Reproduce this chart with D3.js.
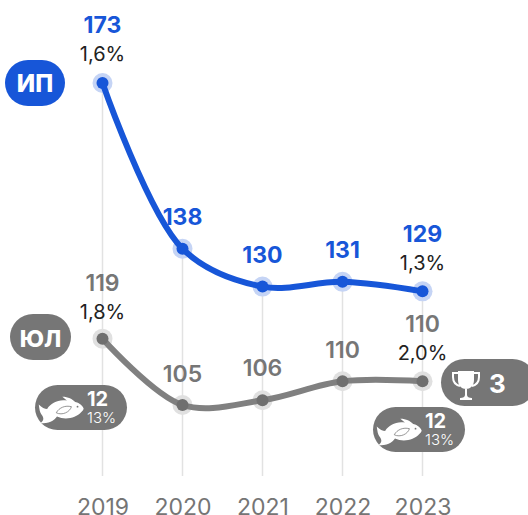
<!DOCTYPE html>
<html>
<head>
<meta charset="utf-8">
<script src="https://cdn.jsdelivr.net/npm/d3@7"></script>
<style>
html, body { margin: 0; padding: 0; background: #fff; overflow: hidden; }
svg { display: block; font-family: Inter, "Open Sans", sans-serif; }
.domain { display: none; }
</style>
</head>
<body>
<svg id="chart"></svg>
<script>
// data
var years = ["2019", "2020", "2021", "2022", "2023"];
var ipValues = [173, 138, 130, 131, 129];
var ipShare = ["1,6%", null, null, null, "1,3%"];
var ulValues = [119, 105, 106, 110, 110];
var ulShare = ["1,8%", null, null, null, "2,0%"];
var fishBadges = [
  { year: "2019", count: "12", share: "13%" },
  { year: "2023", count: "12", share: "13%" }
];
var trophyCount = "3";

var BLUE = "#1756d8";
var GRAY = "#767676";

var size = { width: 528, height: 515 };

var svg = d3.select("#chart")
  .attr("width", size.width)
  .attr("height", size.height);

var x = d3.scalePoint()
  .domain(years)
  .range([102.5, 422.5]);

var y = d3.scaleLinear()
  .domain([90, 173])
  .range([476, 83]);

// vertical guide lines, from the upper series down
svg.append("g").selectAll("line")
  .data(years)
  .enter()
  .append("line")
  .attr("x1", function(d){ return x(d); })
  .attr("x2", function(d){ return x(d); })
  .attr("y1", function(d, i){ return y(ipValues[i]); })
  .attr("y2", y(90))
  .attr("stroke", "#e2e2e2")
  .attr("stroke-width", 1.5);

// axis labels
var xAxis = d3.axisBottom().scale(x).tickSize(0).tickPadding(0);
var axisG = svg.append("g")
  .attr("transform", "translate(0,499)")
  .call(xAxis);
axisG.selectAll("text")
  .attr("font-family", "Inter, sans-serif")
  .attr("font-size", 23)
  .attr("font-weight", 400)
  .attr("fill", "#757575");

var line = d3.line()
  .x(function(d, i){ return x(years[i]); })
  .y(function(d){ return y(d); })
  .curve(d3.curveCatmullRom.alpha(0.5));

function drawSeries(values, color, lineColor, haloColor){
  var g = svg.append("g");
  g.selectAll("circle.halo")
    .data(values)
    .enter()
    .append("circle")
    .attr("class", "halo")
    .attr("cx", function(d, i){ return x(years[i]); })
    .attr("cy", function(d){ return y(d); })
    .attr("r", 10)
    .attr("fill", haloColor);
  svg.append("path")
    .datum(values)
    .attr("d", line)
    .attr("fill", "none")
    .attr("stroke", lineColor)
    .attr("stroke-width", 6)
    .attr("stroke-linecap", "round");
  svg.append("g").selectAll("circle.dot")
    .data(values)
    .enter()
    .append("circle")
    .attr("class", "dot")
    .attr("cx", function(d, i){ return x(years[i]); })
    .attr("cy", function(d){ return y(d); })
    .attr("r", 6)
    .attr("fill", color);
}

drawSeries(ulValues, "#6f6f6f", "#808080", "#e0e0e0");
drawSeries(ipValues, BLUE, BLUE, "#c5d4f5");

function label(px, py, str, opt){
  return svg.append("text")
    .attr("x", px)
    .attr("y", py)
    .attr("text-anchor", opt.anchor || "middle")
    .attr("font-size", opt.size)
    .attr("font-weight", opt.weight)
    .attr("fill", opt.color)
    .text(str);
}

// value labels
var ipOffset = [-50, -24, -24, -24, -49];
var ulOffset = [-48, -23, -24, -23, -49];
ipValues.forEach(function(v, i){
  var py = y(v) + ipOffset[i];
  label(x(years[i]), py, v, { size: 23, weight: 700, color: BLUE });
  if(ipShare[i]) label(x(years[i]), py + 28, ipShare[i], { size: 20, weight: 400, color: "#222" });
});
ulValues.forEach(function(v, i){
  var py = y(v) + ulOffset[i];
  label(x(years[i]), py, v, { size: 23, weight: 600, color: GRAY });
  if(ulShare[i]) label(x(years[i]), py + 28, ulShare[i], { size: 20, weight: 400, color: "#222" });
});

function pill(px, py, w, h, color){
  svg.append("rect")
    .attr("x", px).attr("y", py)
    .attr("width", w).attr("height", h)
    .attr("rx", h / 2).attr("ry", h / 2)
    .attr("fill", color);
}

// series name pills
pill(5, 60, 60, 46, BLUE);
label(35, 92, "ИП", { size: 24, weight: 800, color: "#fff" });
pill(10, 314, 61, 46, GRAY);
label(40.5, 347, "ЮЛ", { size: 23, weight: 800, color: "#fff" });

// fish badge
var fishBody = "M12 21 C17 13 27 8 38 10 L32 5 C40 5 45 8 49 12 C54 13 58 16 60 20 C60 22 59 23 57 25 C50 33 36 36 25 31 C21 37 14 40 3 40 C8 36 8 33 5 29 C2 25 2 21 1 15 C5 19 9 21 12 21 Z";
var fishGill = "M24 26 C28 19 36 16 44 18 C42 25 32 30 24 26 Z";

function fishBadge(px, py, d){
  pill(px, py, 92, 45, GRAY);
  var g = svg.append("g").attr("transform", "translate(" + (px + 3) + "," + (py + 8) + ") scale(0.76)");
  g.append("path").attr("d", fishBody).attr("fill", "#fff");
  g.append("path").attr("d", fishGill).attr("fill", "none").attr("stroke", GRAY).attr("stroke-width", 1);
  g.append("circle").attr("cx", 52).attr("cy", 18).attr("r", 1.2).attr("fill", GRAY);
  label(px + 52, py + 21, d.count, { size: 20, weight: 700, color: "#fff", anchor: "start" });
  label(px + 52, py + 38, d.share, { size: 15, weight: 300, color: "#fff", anchor: "start" });
}
fishBadge(35, 385, fishBadges[0]);
fishBadge(373, 407, fishBadges[1]);

// trophy badge
pill(441, 359, 95, 47, GRAY);
var trophy = svg.append("g").attr("transform", "translate(452,371)");
trophy.append("path")
  .attr("d", "M6 0 H22 V9 C22 15 18 18 14 18 C10 18 6 15 6 9 Z M13 18 H15 V24 C15 26 17 27 20 27 V29 H8 V27 C11 27 13 26 13 24 Z")
  .attr("fill", "#fff");
trophy.append("path")
  .attr("d", "M6 2 H1 V6 C1 11 4 14 8 15 M22 2 H27 V6 C27 11 24 14 20 15")
  .attr("fill", "none").attr("stroke", "#fff").attr("stroke-width", 2);
label(497.5, 393, trophyCount, { size: 26, weight: 700, color: "#fff" });
</script>
</body>
</html>
